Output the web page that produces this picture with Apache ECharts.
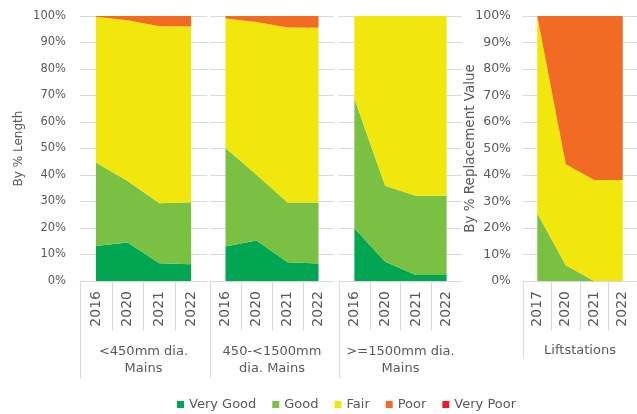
<!DOCTYPE html>
<html><head><meta charset="utf-8">
<script src="https://cdn.jsdelivr.net/npm/echarts@6/dist/echarts.min.js"></script>
<style>html,body{margin:0;padding:0;background:#fff}#c{width:637px;height:414px}</style>
</head><body><div id="c"></div>
<script>
// ---- data ----
const conditions = ['Very Good', 'Good', 'Fair', 'Poor', 'Very Poor'];
const groupNames = ['<450mm dia.\nMains', '450-<1500mm\ndia. Mains', '>=1500mm dia.\nMains', 'Liftstations'];
const yearsMains = ['2016', '2020', '2021', '2022'];
const yearsLift = ['2017', '2020', '2021', '2022'];
const yTitles = ['By % Length', 'By % Replacement Value'];

// <450mm dia. Mains (% of length)
const smallVeryGood = [13.2, 14.5, 6.7, 6.3];
const smallGood     = [31.5, 23.2, 22.6, 23.4];
const smallFair     = [55.0, 60.7, 66.8, 66.3];
const smallPoor     = [0.3, 1.6, 3.9, 4.0];
const smallVeryPoor = [0, 0, 0, 0];
// 450-<1500mm dia. Mains
const midVeryGood = [13.0, 15.3, 7.1, 6.6];
const midGood     = [37.2, 24.8, 22.5, 23.0];
const midFair     = [48.9, 57.6, 66.1, 66.0];
const midPoor     = [0.9, 2.3, 4.3, 4.4];
const midVeryPoor = [0, 0, 0, 0];
// >=1500mm dia. Mains
const largeVeryGood = [19.9, 7.3, 2.3, 2.3];
const largeGood     = [49.0, 28.6, 29.9, 29.9];
const largeFair     = [31.1, 64.1, 67.8, 67.8];
const largePoor     = [0, 0, 0, 0];
const largeVeryPoor = [0, 0, 0, 0];
// Liftstations (% of replacement value)
const liftVeryGood = [0, 0, 0, 0];
const liftGood     = [25.6, 5.9, 0, 0];
const liftFair     = [74.4, 38.2, 38.1, 38.1];
const liftPoor     = [0, 55.9, 61.9, 61.9];
const liftVeryPoor = [0, 0, 0, 0];

// ---- styling / layout ----
const colors = ['#00a651', '#7ac143', '#f2e70c', '#f26b24', '#ed1c24'];
const FONT = 'DejaVu Sans';
const TXT = '#595959';
const LINE = '#d9d9d9';
const panels = [
  { years: yearsMains, group: groupNames[0], data: [smallVeryGood, smallGood, smallFair, smallPoor, smallVeryPoor],
    left: 80, width: 127, showY: true, yName: yTitles[0], nameGap: 55, yFont: 11.5, nameFont: 12, groupTick: 97, groupMargin: 62, labMargin: 14 },
  { years: yearsMains, group: groupNames[1], data: [midVeryGood, midGood, midFair, midPoor, midVeryPoor],
    left: 210, width: 124, showY: false, groupTick: 97, groupMargin: 62 },
  { years: yearsMains, group: groupNames[2], data: [largeVeryGood, largeGood, largeFair, largePoor, largeVeryPoor],
    left: 339, width: 123, showY: false, groupTick: 97, groupMargin: 62 },
  { years: yearsLift, group: groupNames[3], data: [liftVeryGood, liftGood, liftFair, liftPoor, liftVeryPoor],
    left: 523, width: 118, showY: true, yName: yTitles[1], nameGap: 46, yFont: 12.5, nameFont: 13.5, groupTick: 77, groupMargin: 61, labMargin: 12 }
];

const grid = [], xAxis = [], yAxis = [], series = [];
panels.forEach((p, i) => {
  grid.push({ left: p.left, width: p.width, top: 16, height: 265 });
  // year labels
  xAxis.push({ type: 'category', gridIndex: i, position: 'bottom', data: p.years, boundaryGap: true,
    axisLine: { show: true, lineStyle: { color: LINE, width: 1 } }, axisTick: { show: false },
    axisLabel: { rotate: 90, margin: 10, fontSize: 14, color: TXT, fontFamily: FONT, interval: 0 },
    splitLine: { show: false } });
  // year separators
  xAxis.push({ type: 'category', gridIndex: i, position: 'bottom', data: ['', '', '', '', ''], boundaryGap: false,
    axisLine: { show: false },
    axisTick: { show: true, length: 49, interval: (idx) => idx < 4, lineStyle: { color: LINE } },
    axisLabel: { show: false }, splitLine: { show: false } });
  // group label + group separator
  xAxis.push({ type: 'category', gridIndex: i, position: 'bottom', data: ['', p.group, ''], boundaryGap: false,
    axisLine: { show: false },
    axisTick: { show: true, length: p.groupTick, interval: (idx) => idx === 0, lineStyle: { color: LINE } },
    axisLabel: { interval: (idx) => idx === 1, margin: p.groupMargin, fontSize: 13, lineHeight: 17,
      color: TXT, fontFamily: FONT, align: 'center' },
    splitLine: { show: false } });
  yAxis.push({ type: 'value', gridIndex: i, min: 0, max: 100, interval: 10,
    axisLine: { show: false }, axisTick: { show: false },
    axisLabel: { show: p.showY, formatter: '{value}%', margin: p.labMargin || 12, fontSize: p.yFont || 12,
      color: TXT, fontFamily: FONT },
    splitLine: { show: true, lineStyle: { color: LINE, width: 1 } },
    name: p.showY ? p.yName : '', nameLocation: 'middle', nameRotate: 90, nameGap: p.nameGap || 40,
    nameMoveOverlap: false,
    nameTextStyle: { fontSize: p.nameFont || 12, color: TXT, fontFamily: FONT } });
  p.data.forEach((vals, j) => {
    series.push({ type: 'line', name: conditions[j], xAxisIndex: i * 3, yAxisIndex: i, stack: 'panel' + i,
      data: vals, symbol: 'none', showSymbol: false, silent: true,
      lineStyle: { width: 0, color: colors[j] }, itemStyle: { color: colors[j] },
      areaStyle: { color: colors[j], opacity: 1 }, emphasis: { disabled: true } });
  });
});

const chart = echarts.init(document.getElementById('c'), null, { renderer: 'canvas' });
chart.setOption({
  animation: false,
  backgroundColor: '#ffffff',
  grid, xAxis, yAxis, series,
  legend: { data: conditions, left: 172, top: 393, icon: 'rect', itemWidth: 7, itemHeight: 7, itemGap: 16,
    selectedMode: false, textStyle: { fontSize: 13, color: TXT, fontFamily: FONT } }
});
</script></body></html>
